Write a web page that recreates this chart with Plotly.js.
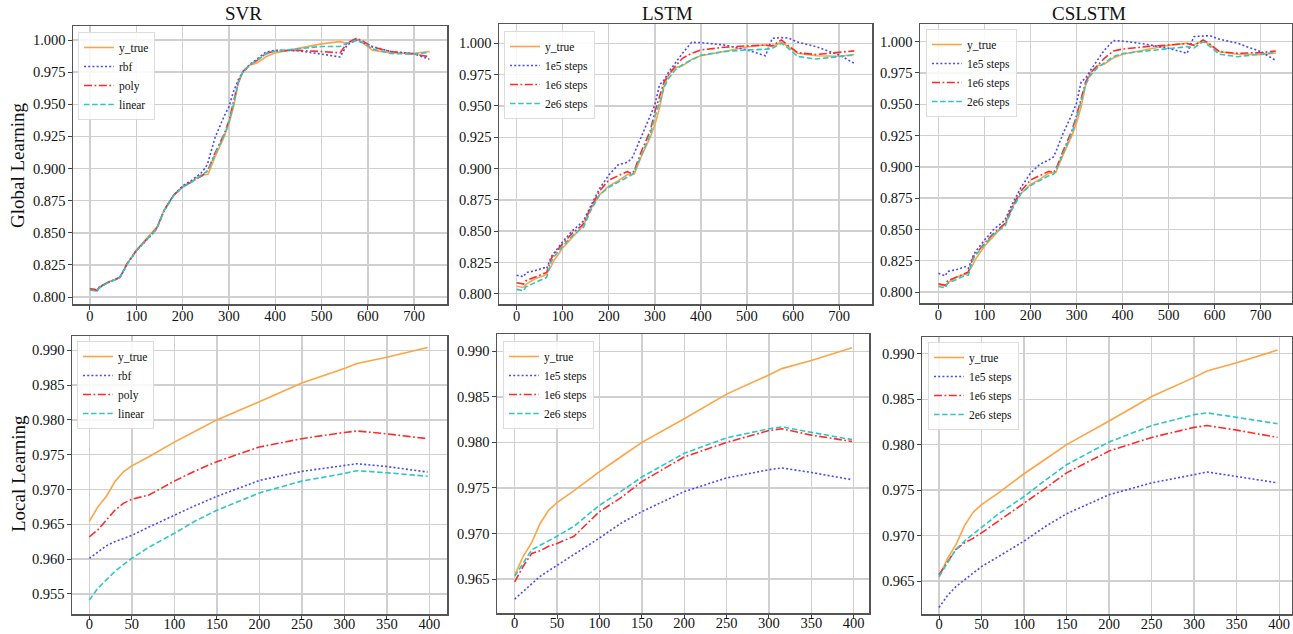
<!DOCTYPE html>
<html>
<head>
<meta charset="utf-8">
<script src="https://cdn.plot.ly/plotly-3.0.1.min.js"></script>
<style>html,body{margin:0;padding:0;background:#fff;}#chart{width:1293px;height:634px;}</style>
</head>
<body>
<div id="chart"></div>
<script>
// ---------- data ----------
const topX = [0,10,15,20,40,60,65,75,80,100,120,140,145,160,180,200,220,240,250,255,270,290,300,310,320,330,345,360,380,400,450,500,540,555,575,590,610,650,700,733];
const topTrue = [0.806,0.8055,0.805,0.8075,0.812,0.8145,0.816,0.822,0.826,0.8366,0.8444,0.852,0.8547,0.8677,0.879,0.886,0.890,0.895,0.8955,0.8955,0.909,0.925,0.935,0.948,0.966,0.975,0.9805,0.982,0.987,0.990,0.9935,0.997,0.9987,0.9974,1.0008,0.9974,0.992,0.990,0.9896,0.991];
const svrTopRbf = [0.806,0.8055,0.805,0.8075,0.8115,0.8145,0.8155,0.822,0.8255,0.836,0.8435,0.851,0.854,0.867,0.879,0.8865,0.891,0.8965,0.901,0.905,0.924,0.941,0.948,0.960,0.969,0.975,0.981,0.985,0.9905,0.992,0.9917,0.989,0.9868,0.996,1.000,0.998,0.995,0.991,0.9893,0.985];
const svrTopPoly = [0.8065,0.806,0.805,0.808,0.8115,0.8145,0.8155,0.8225,0.826,0.836,0.844,0.8515,0.854,0.8675,0.879,0.8855,0.8895,0.894,0.8965,0.899,0.912,0.927,0.937,0.952,0.967,0.9755,0.9805,0.984,0.9895,0.9915,0.992,0.991,0.990,0.9975,1.0013,0.999,0.9945,0.991,0.989,0.987];
const svrTopLinear = [0.8055,0.805,0.8045,0.807,0.8115,0.814,0.8155,0.822,0.8255,0.836,0.8435,0.8515,0.854,0.867,0.8785,0.8855,0.8895,0.8945,0.897,0.8985,0.911,0.926,0.936,0.950,0.967,0.975,0.9805,0.984,0.989,0.9915,0.9935,0.995,0.995,0.9975,0.9995,0.998,0.993,0.9895,0.989,0.9905];
const lstmTop1e5 = [0.8147,0.814,0.8136,0.8168,0.8184,0.8208,0.820,0.8296,0.832,0.8415,0.850,0.856,0.858,0.8695,0.884,0.8948,0.9028,0.905,0.908,0.912,0.9254,0.942,0.9507,0.9667,0.9707,0.977,0.985,0.992,1.0008,1.0005,0.9987,0.9947,0.990,1.004,1.0045,1.0042,1.001,0.9973,0.9907,0.984];
const lstmTop1e6 = [0.8088,0.8082,0.8077,0.8104,0.8135,0.8168,0.817,0.828,0.831,0.840,0.848,0.854,0.856,0.868,0.882,0.8908,0.894,0.8975,0.896,0.898,0.913,0.930,0.9454,0.957,0.969,0.975,0.982,0.988,0.992,0.9947,0.9968,0.9979,0.9985,0.998,1.0027,0.998,0.9925,0.991,0.9925,0.9939];
const lstmTop2e6 = [0.8035,0.803,0.8024,0.8056,0.809,0.8128,0.813,0.8256,0.829,0.838,0.846,0.852,0.853,0.866,0.879,0.885,0.889,0.8935,0.895,0.897,0.910,0.927,0.9414,0.952,0.9648,0.972,0.979,0.983,0.9867,0.9905,0.9933,0.9947,0.9952,0.996,1.000,0.996,0.9895,0.9875,0.9894,0.9907];
const cslstmTop1e5 = [0.815,0.814,0.813,0.8165,0.818,0.8205,0.819,0.8285,0.832,0.8415,0.850,0.856,0.858,0.870,0.884,0.895,0.902,0.9056,0.908,0.912,0.926,0.942,0.951,0.968,0.971,0.977,0.985,0.993,1.0008,1.0005,0.998,0.9947,0.9907,1.004,1.0045,1.0048,1.002,0.9987,0.992,0.985];
const cslstmTop1e6 = [0.8067,0.806,0.8055,0.809,0.812,0.8155,0.816,0.8275,0.830,0.839,0.847,0.853,0.855,0.868,0.881,0.8895,0.893,0.8965,0.8955,0.898,0.912,0.929,0.941,0.955,0.968,0.975,0.981,0.9865,0.9925,0.9941,0.996,0.9973,0.9985,0.997,1.0013,0.998,0.992,0.9907,0.9912,0.9926];
const cslstmTop2e6 = [0.8045,0.804,0.8035,0.807,0.810,0.8135,0.8135,0.826,0.829,0.838,0.846,0.852,0.853,0.866,0.879,0.885,0.889,0.893,0.894,0.897,0.910,0.927,0.939,0.953,0.966,0.973,0.979,0.983,0.988,0.9905,0.9925,0.9947,0.996,0.995,1.000,0.996,0.990,0.988,0.990,0.9915];

const botX = [0,10,20,30,40,50,70,100,125,150,200,250,300,315,350,398];
const botTrue = [0.9654,0.9675,0.9690,0.9711,0.97255,0.9734,0.9747,0.9768,0.9784,0.9800,0.9826,0.9853,0.9874,0.9881,0.9890,0.9904];
const svrBotRbf = [0.9601,0.9610,0.9619,0.9625,0.9629,0.9634,0.9646,0.9663,0.9677,0.9690,0.9713,0.9726,0.9735,0.9737,0.9733,0.9725];
const svrBotPoly = [0.9632,0.9642,0.9656,0.9670,0.9680,0.9686,0.9692,0.9712,0.9727,0.9740,0.9761,0.9773,0.9782,0.9784,0.9780,0.9773];
const svrBotLinear = [0.9541,0.9558,0.9570,0.9582,0.9592,0.9601,0.9617,0.9637,0.9655,0.9670,0.9695,0.9712,0.9723,0.9727,0.9724,0.9719];
const lstmBot1e5 = [0.9628,0.9636,0.9645,0.9653,0.9659,0.9665,0.9677,0.9695,0.9711,0.9724,0.9746,0.9761,0.9770,0.9772,0.9767,0.9759];
const lstmBot1e6 = [0.9647,0.9664,0.9678,0.9681,0.9686,0.9689,0.9697,0.9724,0.9739,0.9757,0.9784,0.9800,0.9813,0.9815,0.9808,0.9801];
const lstmBot2e6 = [0.9653,0.9667,0.9682,0.9687,0.9692,0.9697,0.9708,0.9731,0.9746,0.9762,0.9788,0.9805,0.9815,0.9817,0.9811,0.9803];
const cslstmBot1e5 = [0.9621,0.9634,0.9644,0.9651,0.9659,0.9666,0.9677,0.9694,0.9710,0.9724,0.9745,0.9758,0.9767,0.9770,0.9765,0.9758];
const cslstmBot1e6 = [0.9657,0.9671,0.9685,0.9692,0.9697,0.9703,0.9716,0.9735,0.9752,0.9769,0.9793,0.9808,0.9819,0.9821,0.9816,0.9808];
const cslstmBot2e6 = [0.9655,0.9670,0.9685,0.9694,0.9701,0.9709,0.9724,0.9743,0.9761,0.9778,0.9803,0.9821,0.9833,0.9835,0.9830,0.9823];

const trueName = 'y_true';
const svrNames = ['rbf','poly','linear'];
const lstmNames = ['1e5 steps','1e6 steps','2e6 steps'];
const panelTitles = ['SVR','LSTM','CSLSTM'];
const rowTitles = ['Global Learning','Local Learning'];
const topXTicks = [0,100,200,300,400,500,600,700];
const botXTicks = [0,50,100,150,200,250,300,350,400];

// ---------- styling ----------
const W = 1293, H = 634;
const FONT = 'Liberation Serif';
const C_TRUE = '#FFA444', C_B = '#4848FF', C_R = '#FF2B2B', C_C = '#2EC6C6';
const styles = [
  {color: C_B, dash: '2px,2.2px'},
  {color: C_R, dash: '8px,2.5px,1.8px,2.5px'},
  {color: C_C, dash: '5.5px,2.6px'}
];
// panel pixel boxes [left,right,top,bottom]
const boxes = [
  [73,447,26,304],[499,872,24,304],[920,1292,24,303],
  [72,447,336,614],[497,869,334,613],[922,1292,337,614]
];
const xRanges = [[-36.7,771],[-38.4,771.5],[-40,768],[-20.4,420.8],[-20.9,418],[-20,415]];
const yRanges = [[0.7946,1.0109],[0.7918,1.0154],[0.7913,1.0141],[0.9521,0.99206],[0.96127,0.9919],[0.96138,0.99184]];
const legendPos = [[78,32],[504,31],[926,29],[77,341],[503,341],[928,342]];
const titlePos = [243,667,1089];

const panels = [
  {x: topX, t: topTrue, s: [svrTopRbf, svrTopPoly, svrTopLinear], n: svrNames},
  {x: topX, t: topTrue, s: [lstmTop1e5, lstmTop1e6, lstmTop2e6], n: lstmNames},
  {x: topX, t: topTrue, s: [cslstmTop1e5, cslstmTop1e6, cslstmTop2e6], n: lstmNames},
  {x: botX, t: botTrue, s: [svrBotRbf, svrBotPoly, svrBotLinear], n: svrNames},
  {x: botX, t: botTrue, s: [lstmBot1e5, lstmBot1e6, lstmBot2e6], n: lstmNames},
  {x: botX, t: botTrue, s: [cslstmBot1e5, cslstmBot1e6, cslstmBot2e6], n: lstmNames}
];

const traces = [];
const layout = {
  width: W, height: H,
  margin: {l:0, r:0, t:0, b:0},
  paper_bgcolor: '#ffffff', plot_bgcolor: '#ffffff',
  font: {family: FONT, color: '#111', size: 14.5},
  showlegend: true,
  annotations: []
};

panels.forEach((p, i) => {
  const k = i + 1;
  const xa = 'x' + (k === 1 ? '' : k), ya = 'y' + (k === 1 ? '' : k);
  const lg = 'legend' + (k === 1 ? '' : k);
  traces.push({x: p.x, y: p.t, type: 'scatter', mode: 'lines', name: trueName,
    xaxis: xa, yaxis: ya, legend: lg, line: {color: C_TRUE, width: 1.6}});
  p.s.forEach((ser, j) => {
    traces.push({x: p.x, y: ser, type: 'scatter', mode: 'lines', name: p.n[j],
      xaxis: xa, yaxis: ya, legend: lg, line: {color: styles[j].color, width: 1.6, dash: styles[j].dash}});
  });
  const b = boxes[i];
  const isTop = i < 3;
  const common = () => ({
    showline: true, mirror: true, linecolor: '#555', linewidth: 1.5,
    showgrid: true, gridcolor: '#d0d0d0', gridwidth: 1.4, zeroline: false,
    ticks: 'outside', ticklen: 4, tickwidth: 1, tickcolor: '#444',
    tickfont: {family: FONT, size: 14.5, color: '#111'}
  });
  layout['xaxis' + (k === 1 ? '' : k)] = Object.assign(common(), {
    domain: [b[0]/W, b[1]/W], range: xRanges[i], anchor: ya,
    tickmode: 'array', tickvals: isTop ? topXTicks : botXTicks, ticklabelstandoff: isTop ? -6 : -8
  });
  layout['yaxis' + (k === 1 ? '' : k)] = Object.assign(common(), {
    domain: [1 - b[3]/H, 1 - b[2]/H], range: yRanges[i], anchor: xa,
    tickmode: 'linear', tick0: isTop ? 0.8 : 0.955, dtick: isTop ? 0.025 : 0.005, tickformat: '.3f',
    ticklabelstandoff: -1
  });
  layout[lg] = {
    x: legendPos[i][0]/W, y: 1 - legendPos[i][1]/H, xanchor: 'left', yanchor: 'top',
    xref: 'paper', yref: 'paper',
    bgcolor: 'rgba(255,255,255,0.85)', bordercolor: '#dcdcdc', borderwidth: 1,
    font: {family: FONT, size: 11.5, color: '#111'}, itemwidth: 30, tracegroupgap: 0
  };
});

panelTitles.forEach((t, i) => {
  layout.annotations.push({text: t, xref: 'paper', yref: 'paper', x: titlePos[i]/W, y: 1 - 26/H,
    xanchor: 'center', yanchor: 'bottom', showarrow: false, font: {family: FONT, size: 19, color: '#111'}});
});
rowTitles.forEach((t, i) => {
  layout.annotations.push({text: t, xref: 'paper', yref: 'paper', x: 18/W, y: 1 - (i === 0 ? 165 : 474)/H,
    xanchor: 'center', yanchor: 'middle', textangle: -90, showarrow: false, font: {family: FONT, size: 19, color: '#111'}});
});

Plotly.newPlot('chart', traces, layout, {displayModeBar: false, staticPlot: true});
</script>
</body>
</html>
